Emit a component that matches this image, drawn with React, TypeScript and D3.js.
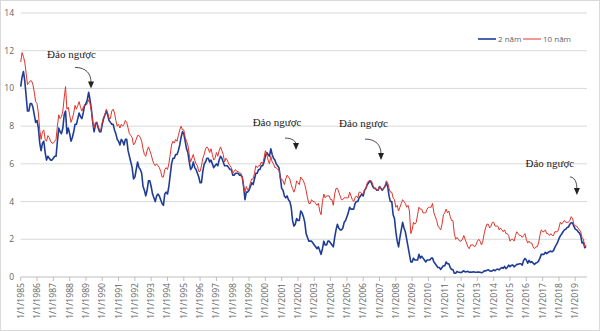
import React from "react";
import * as d3 from "d3";

// Monthly yields (%), Jan 1985 .. Sep 2019
const startYear = 1985;

const twoYear1985_1996 = [
  10.1, 10.6, 10.9, 10.4, 9.6, 8.8, 8.8, 9.2, 9.2, 9.0, 8.6, 8.2,
  8.3, 7.9, 7.1, 6.7, 7.1, 7.2, 6.6, 6.2, 6.4, 6.3, 6.2, 6.2,
  6.3, 6.4, 6.4, 7.2, 7.9, 7.7, 7.6, 7.9, 8.6, 8.8, 7.6, 7.9,
  7.6, 7.2, 7.4, 7.7, 8.1, 8.1, 8.4, 8.7, 8.5, 8.4, 8.7, 9.1,
  9.2, 9.4, 9.8, 9.4, 8.9, 8.2, 7.7, 8.1, 8.2, 7.9, 7.7, 7.7,
  8.1, 8.4, 8.6, 8.8, 8.6, 8.3, 8.2, 8.1, 8.1, 7.8, 7.6, 7.3,
  7.2, 7.0, 7.3, 7.2, 7.0, 7.3, 7.3, 6.7, 6.4, 6.1, 5.8, 5.2,
  5.3, 5.7, 6.1, 5.8, 5.7, 5.5, 4.8, 4.6, 4.3, 4.6, 5.1, 5.1,
  4.8, 4.4, 4.2, 4.0, 4.3, 4.4, 4.3, 4.1, 3.9, 3.8, 4.4, 4.5,
  4.4, 4.8, 5.4, 6.0, 6.3, 6.3, 6.5, 6.5, 6.7, 7.0, 7.4, 7.7,
  7.6, 7.2, 6.8, 6.6, 6.1, 5.7, 5.8, 6.1, 5.8, 5.7, 5.5, 5.3,
  5.0, 5.0, 5.6, 6.0, 6.1, 6.3, 6.3, 6.1, 6.2, 6.0, 5.8, 5.9,
];
const twoYear1997_2008 = [
  6.0, 5.9, 6.2, 6.4, 6.3, 6.1, 5.9, 5.9, 5.9, 5.8, 5.7, 5.7,
  5.4, 5.4, 5.5, 5.5, 5.5, 5.4, 5.4, 5.3, 4.8, 4.1, 4.5, 4.5,
  4.6, 4.8, 5.0, 4.9, 5.2, 5.5, 5.5, 5.7, 5.7, 5.9, 5.9, 6.1,
  6.4, 6.6, 6.5, 6.4, 6.8, 6.5, 6.3, 6.2, 6.0, 5.9, 5.8, 5.3,
  4.7, 4.6, 4.3, 4.2, 4.3, 4.1, 4.0, 3.7, 3.0, 2.7, 2.8, 3.1,
  3.0, 3.0, 3.5, 3.4, 3.2, 2.9, 2.3, 2.1, 1.9, 1.9, 1.9, 1.8,
  1.7, 1.6, 1.5, 1.6, 1.4, 1.2, 1.5, 1.9, 1.7, 1.7, 1.9, 1.9,
  1.8, 1.7, 1.6, 2.1, 2.5, 2.8, 2.6, 2.5, 2.5, 2.6, 2.9, 3.0,
  3.2, 3.4, 3.7, 3.6, 3.6, 3.6, 3.9, 4.0, 4.0, 4.2, 4.3, 4.4,
  4.3, 4.6, 4.7, 4.9, 5.0, 5.1, 5.0, 4.8, 4.7, 4.7, 4.6, 4.6,
  4.8, 4.7, 4.6, 4.7, 4.8, 5.0, 4.8, 4.3, 4.0, 4.0, 3.3, 3.1,
  2.4, 1.9, 1.6, 2.1, 2.5, 2.9, 2.6, 2.4, 2.0, 1.6, 1.2, 0.8,
];
const twoYear2009_2019 = [
  0.8, 1.0, 0.9, 0.9, 0.9, 1.2, 1.0, 1.1, 1.0, 0.9, 0.8, 0.9,
  0.9, 0.9, 1.0, 1.0, 0.8, 0.7, 0.6, 0.5, 0.5, 0.4, 0.5, 0.6,
  0.6, 0.8, 0.7, 0.7, 0.5, 0.4, 0.4, 0.2, 0.2, 0.3, 0.25, 0.25,
  0.23, 0.28, 0.33, 0.27, 0.28, 0.3, 0.25, 0.27, 0.25, 0.28, 0.26, 0.25,
  0.26, 0.26, 0.25, 0.23, 0.25, 0.33, 0.32, 0.36, 0.38, 0.33, 0.3, 0.33,
  0.38, 0.33, 0.4, 0.42, 0.38, 0.45, 0.5, 0.46, 0.56, 0.44, 0.52, 0.63,
  0.55, 0.62, 0.64, 0.54, 0.6, 0.68, 0.67, 0.7, 0.7, 0.63, 0.88, 0.98,
  0.9, 0.73, 0.88, 0.77, 0.82, 0.73, 0.67, 0.74, 0.77, 0.84, 1.0, 1.2,
  1.21, 1.2, 1.31, 1.24, 1.3, 1.35, 1.37, 1.34, 1.4, 1.57, 1.7, 1.84,
  2.03, 2.18, 2.28, 2.4, 2.5, 2.53, 2.62, 2.65, 2.8, 2.88, 2.86, 2.68,
  2.54, 2.5, 2.41, 2.34, 2.2, 1.8, 1.84, 1.55, 1.62,
];

const tenYear1985_1996 = [
  11.4, 11.9, 11.7, 11.4, 10.8, 10.2, 10.3, 10.4, 10.4, 10.2, 9.8, 9.3,
  9.2, 8.7, 7.8, 7.3, 7.7, 7.8, 7.3, 7.2, 7.5, 7.4, 7.2, 7.1,
  7.1, 7.2, 7.3, 8.0, 8.6, 8.4, 8.5, 8.8, 9.5, 10.1, 8.9, 9.0,
  8.6, 8.2, 8.4, 8.7, 9.1, 8.9, 9.1, 9.3, 9.0, 8.8, 9.0, 9.1,
  9.1, 9.2, 9.4, 9.2, 8.8, 8.2, 7.9, 8.2, 8.2, 8.0, 7.8, 7.8,
  8.2, 8.5, 8.6, 8.9, 8.7, 8.4, 8.4, 8.8, 8.9, 8.7, 8.3, 8.0,
  8.1, 7.9, 8.1, 8.0, 8.1, 8.3, 8.2, 7.9, 7.6, 7.5, 7.4, 7.0,
  7.1, 7.3, 7.5, 7.5, 7.4, 7.2, 6.8, 6.5, 6.4, 6.7, 6.9, 6.7,
  6.5, 6.2, 6.0, 5.9, 6.0, 5.9, 5.8, 5.6, 5.3, 5.3, 5.7, 5.8,
  5.7, 6.0, 6.5, 7.0, 7.2, 7.1, 7.3, 7.2, 7.5, 7.8, 8.0, 7.8,
  7.8, 7.4, 7.2, 7.0, 6.5, 6.1, 6.3, 6.5, 6.2, 6.0, 5.9, 5.6,
  5.6, 5.9, 6.3, 6.5, 6.8, 6.9, 6.8, 6.6, 6.8, 6.5, 6.2, 6.3,
];
const tenYear1997_2008 = [
  6.6, 6.4, 6.7, 6.9, 6.7, 6.5, 6.1, 6.3, 6.2, 6.0, 5.9, 5.8,
  5.5, 5.6, 5.7, 5.6, 5.6, 5.5, 5.5, 5.3, 4.8, 4.5, 4.8, 4.6,
  4.7, 5.0, 5.2, 5.2, 5.5, 5.9, 5.8, 5.9, 5.9, 6.1, 6.0, 6.3,
  6.7, 6.5, 6.2, 6.0, 6.4, 6.1, 6.0, 5.8, 5.8, 5.7, 5.7, 5.2,
  5.2, 5.1, 4.9, 5.2, 5.4, 5.3, 5.2, 4.9, 4.7, 4.5, 4.7, 5.1,
  5.0, 4.9, 5.3, 5.2, 5.1, 4.9, 4.6, 4.2, 3.9, 3.9, 4.1, 4.0,
  4.0, 3.9, 3.8, 3.9, 3.5, 3.3, 4.0, 4.4, 4.2, 4.3, 4.3, 4.3,
  4.1, 4.1, 3.8, 4.4, 4.7, 4.7, 4.5, 4.3, 4.1, 4.1, 4.2, 4.2,
  4.2, 4.2, 4.5, 4.3, 4.1, 4.0, 4.2, 4.3, 4.2, 4.5, 4.5, 4.4,
  4.4, 4.6, 4.7, 5.0, 5.1, 5.1, 5.1, 4.9, 4.7, 4.7, 4.6, 4.6,
  4.8, 4.7, 4.6, 4.7, 4.8, 5.1, 5.0, 4.7, 4.5, 4.5, 4.2, 4.1,
  3.7, 3.8, 3.5, 3.7, 3.9, 4.1, 4.0, 3.9, 3.7, 3.8, 3.5, 2.3,
];
const tenYear2009_2019 = [
  2.5, 2.9, 2.8, 2.9, 3.3, 3.7, 3.6, 3.6, 3.4, 3.4, 3.4, 3.6,
  3.7, 3.7, 3.7, 3.9, 3.4, 3.2, 3.0, 2.7, 2.6, 2.5, 2.8, 3.3,
  3.4, 3.6, 3.4, 3.5, 3.2, 3.0, 3.0, 2.3, 2.0, 2.1, 2.0, 1.9,
  1.9, 2.0, 2.2, 2.0, 1.8, 1.6, 1.5, 1.7, 1.7, 1.7, 1.6, 1.7,
  1.9, 2.0, 1.9, 1.7, 1.9, 2.3, 2.6, 2.8, 2.8, 2.6, 2.7, 2.9,
  2.9, 2.7, 2.7, 2.7, 2.5, 2.6, 2.5, 2.4, 2.5, 2.3, 2.3, 2.2,
  1.9, 2.0, 2.0, 1.9, 2.2, 2.4, 2.3, 2.2, 2.2, 2.1, 2.2, 2.3,
  2.0, 1.8, 1.9, 1.8, 1.8, 1.6, 1.5, 1.6, 1.6, 1.8, 2.2, 2.5,
  2.4, 2.4, 2.5, 2.3, 2.3, 2.2, 2.3, 2.2, 2.2, 2.4, 2.4, 2.4,
  2.6, 2.9, 2.8, 2.9, 3.0, 2.9, 2.9, 2.9, 3.0, 3.2, 3.1, 2.8,
  2.7, 2.7, 2.6, 2.5, 2.4, 2.1, 2.0, 1.6, 1.7,
];

const twoYear = [...twoYear1985_1996, ...twoYear1997_2008, ...twoYear2009_2019];
const tenYear = [...tenYear1985_1996, ...tenYear1997_2008, ...tenYear2009_2019];

const yTicks = [0, 2, 4, 6, 8, 10, 12, 14];
const xTickYears = d3.range(1985, 2020);
const seriesNames = ["2 năm", "10 năm"];
const annotationText = "Đảo ngược";
// where each "inversion" arrow points (fractional year, yield level)
const annotationYears = [1989.31, 2001.88, 2007.09, 2019.1];
const annotationTips = [10.0, 6.73, 6.2, 4.35];

// layout offsets for each annotation (pixels): arrow start relative to tip, label centre relative to tip
const ANN_LAYOUT = [
  { sdx: -16, sdy: -21, lx: -19.5, ly: -30 },
  { sdx: -11, sdy: -12, lx: -19, ly: -24 },
  { sdx: -16, sdy: -21, lx: -17.5, ly: -33 },
  { sdx: -7, sdy: -18, lx: -27, ly: -28 },
];

const W = 600;
const H = 331;

export default function App() {
  const x = d3.scaleLinear().domain([1985, 2019.72]).range([20.7, 587]);
  const y = d3.scaleLinear().domain([0, 14]).range([277, 13]);

  const toPts = (arr: number[]) =>
    arr.map((v, i) => [startYear + i / 12, v] as [number, number]);
  const line = d3
    .line<[number, number]>()
    .x((d) => x(d[0]))
    .y((d) => y(d[1]));

  const blue = "#1f3d96";
  const red = "#e0342c";
  const grey = "#646464";

  return (
    <svg
      width={W}
      height={H}
      style={{ position: "absolute", left: 0, top: 0, background: "#fff" }}
      fontFamily="'Open Sans', 'Noto Sans', sans-serif"
    >
      <rect x={0.5} y={0.5} width={W - 1} height={H - 1} fill="#fff" stroke="#d9d9d9" />
      {yTicks.map((t) => (
        <g key={t}>
          {t > 0 && (
            <line x1={20.7} x2={587} y1={y(t)} y2={y(t)} stroke="#d9d9d9" strokeWidth={1} />
          )}
          <text x={14} y={y(t)} dy="0.35em" textAnchor="end" fontSize={8.5} fill={grey}>
            {t}
          </text>
        </g>
      ))}
      <line x1={20.7} x2={587} y1={y(0)} y2={y(0)} stroke="#bfbfbf" />
      {xTickYears.map((yr) => (
        <g key={yr}>
          <line x1={x(yr)} x2={x(yr)} y1={y(0)} y2={y(0) + 4} stroke="#bfbfbf" />
          <text
            transform={`translate(${x(yr) + 3},${y(0) + 6}) rotate(-90)`}
            textAnchor="end"
            fontSize={8.6}
            fill={grey}
          >
            {`1/1/${yr}`}
          </text>
        </g>
      ))}
      <path d={line(toPts(twoYear)) || ""} fill="none" stroke={blue} strokeWidth={1.6} strokeLinejoin="round" />
      <path d={line(toPts(tenYear)) || ""} fill="none" stroke={red} strokeWidth={1} strokeLinejoin="round" />

      {/* legend */}
      <g fontSize={8} fill={grey}>
        <line x1={478} x2={496} y1={39} y2={39} stroke={blue} strokeWidth={1.6} />
        <text x={498} y={39} dy="0.35em">{seriesNames[0]}</text>
        <line x1={523} x2={541} y1={39} y2={39} stroke={red} strokeWidth={1} />
        <text x={543} y={39} dy="0.35em">{seriesNames[1]}</text>
      </g>

      {/* annotations */}
      {annotationYears.map((yr, i) => {
        const tx = x(yr);
        const ty = y(annotationTips[i]);
        const L = ANN_LAYOUT[i];
        const sx = tx + L.sdx;
        const sy = ty + L.sdy;
        return (
          <g key={i}>
            <text
              x={tx + L.lx}
              y={ty + L.ly}
              textAnchor="middle"
              fontFamily="'Liberation Serif', 'DejaVu Serif', serif"
              fontSize={11}
              fill="#222"
            >
              {annotationText}
            </text>
            <path
              d={`M${sx},${sy} C${sx + (tx - sx) * 0.7},${sy} ${tx},${sy + (ty - sy) * 0.3} ${tx},${ty - 6}`}
              fill="none"
              stroke="#222"
              strokeWidth={0.8}
            />
            <path d={`M${tx - 3},${ty - 7} L${tx + 3},${ty - 7} L${tx},${ty} Z`} fill="#222" />
          </g>
        );
      })}
    </svg>
  );
}
